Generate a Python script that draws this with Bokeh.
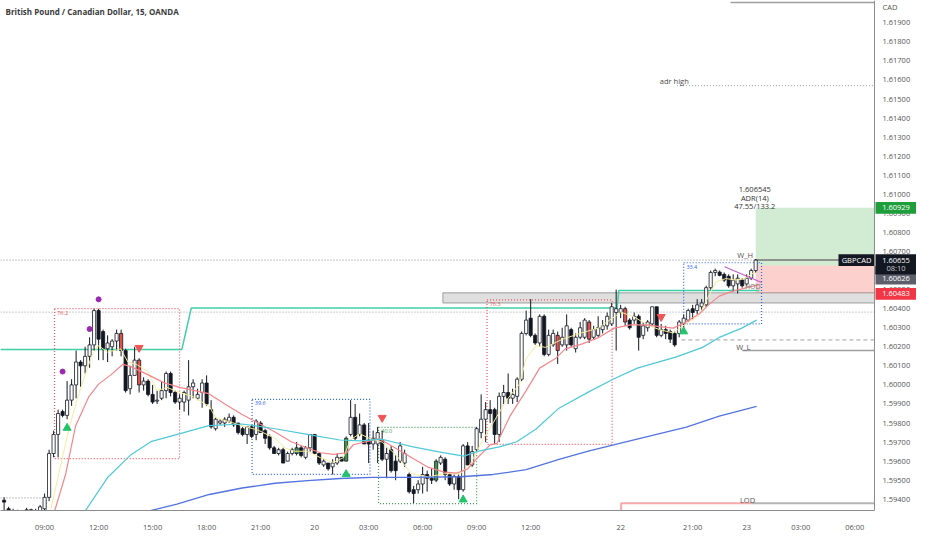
from bokeh.plotting import figure
from bokeh.models import ColumnDataSource, FixedTicker, Label, Span
from bokeh.core.properties import value
from bokeh.embed import file_html
from bokeh.resources import INLINE

# ---- candles (15 min bars, x = bar index, 0 = 09:00 on the 19th) ----
bar_index = list(range(-9, 159))
opens = [
    1.59395, 1.59350, 1.59340, 1.59330, 1.59325, 1.59330, 1.59345, 1.59335, 1.59340, 1.59350,
    1.5941, 1.5964, 1.5974, 1.5986, 1.5984, 1.5992, 1.6000, 1.6012, 1.6010, 1.6015,
    1.6021, 1.6039, 1.6028, 1.6019, 1.6020, 1.6023, 1.6027, 1.6018, 1.5998, 1.6005,
    1.6013, 1.6000, 1.6002, 1.5995, 1.59915, 1.5993, 1.5997, 1.6006, 1.5996, 1.5991,
    1.5991, 1.5992, 1.5999, 1.5993, 1.5996, 1.6001, 1.5987, 1.5977, 1.5980, 1.5980,
    1.5981, 1.5983, 1.5980, 1.5977, 1.5974, 1.5978, 1.5974, 1.5980, 1.5976, 1.5973,
    1.5967, 1.5964, 1.5966, 1.5960, 1.5964, 1.5964, 1.5967, 1.5962, 1.5967, 1.5974,
    1.5964, 1.5958, 1.5959, 1.5957, 1.5959, 1.5962, 1.5960, 1.5974, 1.5983, 1.5974,
    1.5979, 1.5971, 1.5969, 1.5969, 1.5971, 1.5961, 1.5966, 1.5960, 1.5960, 1.5959,
    1.5953, 1.5945, 1.5945, 1.5948, 1.5953, 1.5951, 1.5950, 1.5959, 1.5961, 1.5953,
    1.5948, 1.5952, 1.5945, 1.5968, 1.5958, 1.5966, 1.5975, 1.5982, 1.5987, 1.5987,
    1.5974, 1.5994, 1.5996, 1.5993, 1.5994, 1.6003, 1.6027, 1.6035, 1.6026, 1.6022,
    1.6036, 1.6016, 1.6021, 1.6026, 1.6021, 1.6021, 1.6029, 1.6019, 1.6025, 1.6025,
    1.6033, 1.6025, 1.6026, 1.6029, 1.6031, 1.6032, 1.6038, 1.6038, 1.6040, 1.6034,
    1.6034, 1.6036, 1.6026, 1.6030, 1.6032, 1.6041, 1.6026, 1.6029, 1.6028, 1.6027,
    1.6027, 1.6032, 1.6034, 1.6040, 1.6039, 1.6041, 1.6042, 1.6051, 1.6059, 1.60592,
    1.6058, 1.6057, 1.6052, 1.6053, 1.6055, 1.6053, 1.6056, 1.6060,
]
highs = [
    1.59410, 1.59360, 1.59350, 1.59345, 1.59340, 1.59355, 1.59350, 1.59350, 1.59370, 1.59430,
    1.5966, 1.5976, 1.5987, 1.5987, 1.6002, 1.6003, 1.6018, 1.6013, 1.6020, 1.6025,
    1.6040, 1.6040, 1.6029, 1.6026, 1.6024, 1.6029, 1.6029, 1.6019, 1.6010, 1.6020,
    1.6014, 1.6004, 1.6003, 1.6000, 1.5997, 1.6002, 1.6007, 1.6007, 1.5997, 1.5995,
    1.5997, 1.6013, 1.6003, 1.5998, 1.6003, 1.6005, 1.5992, 1.5983, 1.5982, 1.5983,
    1.5985, 1.5984, 1.5980, 1.5978, 1.5978, 1.5979, 1.5982, 1.5981, 1.5977, 1.5974,
    1.5968, 1.5967, 1.5967, 1.5965, 1.5967, 1.5970, 1.5968, 1.5968, 1.5974, 1.5974,
    1.5964, 1.5961, 1.5959, 1.5961, 1.5964, 1.5962, 1.5973, 1.5992, 1.5990, 1.5985,
    1.5980, 1.5980, 1.5976, 1.5978, 1.5976, 1.5967, 1.5968, 1.5963, 1.5970, 1.5966,
    1.5954, 1.5947, 1.5950, 1.5957, 1.5955, 1.5956, 1.5961, 1.5963, 1.5962, 1.5954,
    1.5953, 1.5953, 1.5969, 1.5970, 1.5968, 1.5978, 1.5995, 1.5991, 1.5992, 1.5988,
    1.5996, 1.6000, 1.6006, 1.5998, 1.6004, 1.6028, 1.6039, 1.6045, 1.6027, 1.6037,
    1.6037, 1.6029, 1.6029, 1.6028, 1.6030, 1.6037, 1.6030, 1.6027, 1.6033, 1.6035,
    1.6034, 1.6031, 1.6036, 1.6034, 1.6038, 1.6043, 1.6050, 1.6042, 1.6041, 1.6035,
    1.6038, 1.6037, 1.6033, 1.6034, 1.6041, 1.6041, 1.6032, 1.6031, 1.6029, 1.6028,
    1.6034, 1.6037, 1.6040, 1.6042, 1.6045, 1.6045, 1.6052, 1.6060, 1.6061, 1.6060,
    1.6059, 1.6058, 1.6058, 1.6058, 1.6056, 1.6058, 1.6061, 1.6066,
]
lows = [
    1.59340, 1.59330, 1.59320, 1.59310, 1.59310, 1.59320, 1.59320, 1.59320, 1.59330, 1.59340,
    1.5939, 1.5962, 1.5962, 1.5983, 1.5982, 1.5989, 1.5993, 1.5999, 1.6006, 1.6009,
    1.6018, 1.6013, 1.6013, 1.6012, 1.6015, 1.6018, 1.6015, 1.5996, 1.5995, 1.6005,
    1.5996, 1.5997, 1.5994, 1.5990, 1.5990, 1.5992, 1.5993, 1.5994, 1.5990, 1.5987,
    1.5986, 1.5984, 1.5993, 1.5992, 1.5988, 1.5989, 1.5977, 1.5976, 1.5979, 1.5978,
    1.5980, 1.5978, 1.5974, 1.5973, 1.5969, 1.5972, 1.5971, 1.5975, 1.5969, 1.5966,
    1.5964, 1.5963, 1.5959, 1.5960, 1.5963, 1.5963, 1.5962, 1.5961, 1.5965, 1.5964,
    1.5958, 1.5957, 1.5955, 1.5953, 1.5958, 1.5960, 1.5960, 1.5973, 1.5971, 1.5973,
    1.5969, 1.5959, 1.5966, 1.5959, 1.5960, 1.5951, 1.5954, 1.5950, 1.5959, 1.5957,
    1.5943, 1.5938, 1.5943, 1.5943, 1.5944, 1.5948, 1.5949, 1.5958, 1.5950, 1.5947,
    1.5945, 1.5940, 1.5944, 1.5958, 1.5957, 1.5965, 1.5972, 1.5970, 1.5980, 1.5969,
    1.5970, 1.5990, 1.5990, 1.5990, 1.5991, 1.6002, 1.6026, 1.6025, 1.6021, 1.6020,
    1.6015, 1.6015, 1.6020, 1.6011, 1.6020, 1.6018, 1.6020, 1.6017, 1.6024, 1.6024,
    1.6022, 1.6024, 1.6025, 1.6027, 1.6029, 1.6031, 1.6018, 1.6035, 1.6031, 1.6029,
    1.6032, 1.6018, 1.6024, 1.6028, 1.6031, 1.6025, 1.6025, 1.6024, 1.6022, 1.6020,
    1.6025, 1.6030, 1.6033, 1.6034, 1.6037, 1.6039, 1.6041, 1.6050, 1.6057, 1.6057,
    1.6054, 1.6051, 1.6049, 1.6048, 1.6051, 1.6052, 1.6055, 1.6059,
]
closes = [
    1.59385, 1.59340, 1.59330, 1.59325, 1.59330, 1.59345, 1.59335, 1.59340, 1.59360, 1.59410,
    1.5964, 1.5974, 1.5985, 1.5984, 1.5992, 1.6000, 1.6012, 1.6010, 1.6015, 1.6021,
    1.6039, 1.6024, 1.6019, 1.6022, 1.6023, 1.6027, 1.6018, 1.5997, 1.6005, 1.6013,
    1.6000, 1.6002, 1.5995, 1.5991, 1.5992, 1.5997, 1.6006, 1.5996, 1.5991, 1.5993,
    1.5996, 1.5999, 1.6001, 1.5995, 1.6001, 1.5990, 1.5978, 1.5982, 1.5981, 1.5982,
    1.5983, 1.5979, 1.5975, 1.5974, 1.5978, 1.5973, 1.5981, 1.5975, 1.5972, 1.5967,
    1.5964, 1.5966, 1.5959, 1.5964, 1.5966, 1.5967, 1.5963, 1.5967, 1.5974, 1.5964,
    1.5959, 1.5960, 1.5956, 1.5959, 1.5962, 1.5960, 1.5972, 1.5983, 1.5972, 1.5979,
    1.5969, 1.5969, 1.5972, 1.5975, 1.5961, 1.5964, 1.5955, 1.5955, 1.5968, 1.5964,
    1.5944, 1.5943, 1.5948, 1.5953, 1.5951, 1.5950, 1.5960, 1.5962, 1.5953, 1.5948,
    1.5952, 1.5945, 1.5968, 1.5958, 1.5965, 1.5977, 1.5982, 1.5987, 1.5985, 1.5974,
    1.5994, 1.5996, 1.5993, 1.5995, 1.6003, 1.6027, 1.6034, 1.6026, 1.6022, 1.6036,
    1.6016, 1.6026, 1.6027, 1.6018, 1.6025, 1.6031, 1.6021, 1.6025, 1.6030, 1.6034,
    1.6024, 1.6029, 1.6030, 1.6031, 1.6036, 1.6041, 1.6040, 1.6040, 1.6033, 1.6030,
    1.6036, 1.6025, 1.6031, 1.6033, 1.6041, 1.6026, 1.6029, 1.6027, 1.6024, 1.6021,
    1.6033, 1.6035, 1.6039, 1.6038, 1.6042, 1.6043, 1.6051, 1.6059, 1.6060, 1.60575,
    1.6055, 1.6052, 1.6055, 1.6056, 1.6052, 1.6056, 1.6060, 1.60655,
]
red_bars = [17, 21, 114, 121, 129]
green_bars = [56, 67, 87]

# ---- moving averages ----
ema_fast_x = [1.4, 5.4, 7.6, 10.5, 12, 14, 16.9, 18.5, 20.6, 22.9, 25, 27.2, 30, 33, 36.6, 38,
              43.9, 47.6, 51.2, 53.4, 55.5, 58.4, 61.3, 64.2, 66.4, 67.9, 70, 72.2, 75, 78,
              81.6, 85.3, 88.8, 92.4, 94.6, 97.5, 99.7, 102.6, 105.5, 107, 109.2, 111.3, 115,
              119.3, 123, 126.6, 128, 131, 133.9, 136.6, 139.7, 142.6, 145.5, 147, 149.2,
              151.4, 153.6, 155.6, 157.8]
ema_fast_y = [1.5935, 1.59769, 1.59954, 1.60155, 1.60206, 1.60172, 1.60189, 1.6012, 1.60105,
              1.60071, 1.5997, 1.59987, 1.5996, 1.59938, 1.59887, 1.59828, 1.59786, 1.59761,
              1.59719, 1.59669, 1.59652, 1.59652, 1.59618, 1.59593, 1.59618, 1.59711, 1.59744,
              1.59719, 1.5970, 1.59634, 1.59534, 1.59517, 1.59534, 1.59534, 1.59584, 1.59718,
              1.59802, 1.59919, 1.60004, 1.60138, 1.60206, 1.60197, 1.60239, 1.60273, 1.60298,
              1.60357, 1.60382, 1.60357, 1.60315, 1.6029, 1.60273, 1.60323, 1.60365, 1.60441,
              1.60541, 1.60558, 1.6055, 1.60558, 1.60592]
ema_mid_x = [2.0, 4.7, 6.9, 9.8, 12, 14.8, 17.4, 19.2, 22.9, 26.5, 30, 36.5, 40.3, 43.9, 47.2,
             51.2, 54.8, 58.4, 61.3, 64.2, 67.1, 68.6, 71.5, 74.4, 78, 81.6, 85.3, 88.8, 91.6,
             94, 96.2, 99, 100.5, 103.4, 107, 110, 113.5, 115.7, 119.3, 123, 126.6, 130.2,
             133.9, 136.6, 139.7, 142.6, 145.5, 147.7, 149.9, 152.7, 155.6, 158.5]
ema_mid_y = [1.5932, 1.59534, 1.59786, 1.59937, 1.60004, 1.60054, 1.60108, 1.60096, 1.60054,
             1.60012, 1.59987, 1.59954, 1.59896, 1.59845, 1.59803, 1.59753, 1.59702, 1.59669,
             1.59644, 1.59635, 1.59644, 1.59686, 1.59702, 1.59718, 1.59668, 1.59618, 1.59567,
             1.59542, 1.59537, 1.59559, 1.59618, 1.59685, 1.59693, 1.59836, 1.5997, 1.60088,
             1.60138, 1.60189, 1.60214, 1.60247, 1.60298, 1.60315, 1.60315, 1.60306, 1.60298,
             1.60331, 1.60373, 1.60424, 1.60466, 1.60491, 1.60508, 1.60525]
ema_slow_x = [8.5, 14.1, 19.2, 23.6, 30.1, 36.5, 43.9, 51.2, 58.4, 65.6, 70, 75, 81.6, 88.8,
              93.2, 96.2, 101.3, 104.9, 109.2, 114.3, 120.8, 126.3, 131.7, 140.4, 146.2,
              149.8, 154.9, 158.2]
ema_slow_y = [1.5932, 1.59517, 1.59634, 1.59702, 1.59744, 1.59786, 1.59795, 1.5977, 1.5974,
              1.59711, 1.59706, 1.59715, 1.59676, 1.59643, 1.59626, 1.59651, 1.59676, 1.59702,
              1.59769, 1.59878, 1.59962, 1.6003, 1.60088, 1.60147, 1.60197, 1.60248, 1.60298,
              1.6034]
ema_long_x = [23.5, 29.4, 36.6, 43.9, 51.2, 58.4, 65.7, 72.9, 81.6, 92.4, 99.7, 107, 114.3,
              120.8, 128, 135.3, 142.6, 149.9, 158.2]
ema_long_y = [1.5934, 1.59375, 1.59425, 1.59459, 1.59484, 1.59498, 1.59509, 1.59515, 1.59515,
              1.59518, 1.5953, 1.59555, 1.59609, 1.59652, 1.59694, 1.59736, 1.59778, 1.59836,
              1.59887]

# previous-day high level (steps up twice)
level_x = [-9.8, 30.5, 32.6, 127.2, 127.6, 158.8]
level_y = [1.60186, 1.60186, 1.60404, 1.60404, 1.60496, 1.60496]

# ---- signals ----
dot_x = [4, 10, 12]
dot_y = [1.6007, 1.60293, 1.60449]
buy_x = [5, 67, 93, 142]
buy_y = [1.59774, 1.59531, 1.59398, 1.60280]
sell_x = [21, 75, 137]
sell_y = [1.60195, 1.59828, 1.60357]

# ---- range boxes ----
box_left = [2.2, 46.1, 74.2, 98.3, 142.0]
box_right = [30.0, 72.3, 96.0, 126.1, 159.3]
box_top = [1.60400, 1.59924, 1.59777, 1.60446, 1.60641]
box_bottom = [1.59613, 1.59531, 1.59377, 1.59688, 1.60320]
box_text = ["76.2", "39.6", "40.0", "76.3", "33.4"]
box_color = ["#f2545b", "#2962ff", "#3fa34d", "#f2545b", "#2962ff"]

# ---- levels ----
last_price = 1.60655
mid_level = 1.60382
adr_high = 1.61570
top_level = 1.62007
week_high = 1.60655
week_low = 1.60181
dash_level = 1.60236
lod = 1.59379
take_profit = 1.60929
entry = 1.60626
stop_loss = 1.60483
zone_top = 1.60483
zone_bottom = 1.60430
adr_lines = ["1.606545", "ADR(14)", "47.55/133.2"]

# ---- axes ----
time_ticks = [0, 12, 24, 36, 48, 60, 72, 84, 96, 108, 128, 144, 156, 168, 180]
time_labels = ["09:00", "12:00", "15:00", "18:00", "21:00", "20", "03:00", "06:00", "09:00",
               "12:00", "22", "21:00", "23", "03:00", "06:00"]
price_ticks = [1.594, 1.595, 1.596, 1.597, 1.598, 1.599, 1.600, 1.601, 1.602, 1.603, 1.604,
               1.605, 1.606, 1.607, 1.608, 1.609, 1.610, 1.611, 1.612, 1.613, 1.614, 1.615,
               1.616, 1.617, 1.618, 1.619]

W, H = 916, 534
CHART_W, SCALE_W, AXIS_H = 874, 42, 18
X0, X1 = -9.8, 184.4                  # price-area extent in bar units
PX = (X1 - X0) / CHART_W              # bar units per pixel
XR = X1 + SCALE_W * PX                # the price scale lives inside the frame
Y0, Y1 = 1.59341, 1.62017
PY = (Y1 - Y0) / (H - AXIS_H)         # price per pixel
FONT = "Open Sans"
AX = "#8c8c8c"
TXT = "#4a4a4a"

p = figure(width=W, height=H, x_range=(X0, XR), y_range=(Y0, Y1),
           y_axis_location=None, output_backend="svg", toolbar_location=None,
           tools="", min_border_left=0, min_border_top=0, min_border_right=0,
           min_border_bottom=AXIS_H)
p.outline_line_color = None
p.grid.grid_line_color = None
p.background_fill_color = "white"

p.xaxis.ticker = FixedTicker(ticks=time_ticks)
p.xaxis.major_label_overrides = {t: l for t, l in zip(time_ticks, time_labels)}
p.xaxis.bounds = (X0, X1)
p.xaxis.axis_line_color = AX
p.xaxis.major_tick_line_color = None
p.xaxis.minor_tick_line_color = None
p.xaxis.major_label_text_font = FONT
p.xaxis.major_label_text_font_size = "7.5px"
p.xaxis.major_label_text_color = "#555555"
p.xaxis.major_label_standoff = 5

# ---- zones (long position tool + grey supply zone) ----
p.quad(left=88.5, right=X1, top=zone_top, bottom=zone_bottom,
       fill_color="#dcdcdc", fill_alpha=0.9, line_color="#9e9e9e", line_width=1)
p.quad(left=158.0, right=X1, top=take_profit, bottom=entry,
       fill_color="#4caf50", fill_alpha=0.25, line_color=None)
p.quad(left=158.0, right=X1, top=entry, bottom=stop_loss,
       fill_color="#f44336", fill_alpha=0.25, line_color=None)

# ---- horizontal levels ----
p.line([X0, X1], [last_price, last_price], color="#888888", line_dash="1 2", line_width=1)
p.line([X0, X1], [mid_level, mid_level], color="#999999", line_dash="1 2", line_width=1)
p.line([140.5, X1], [adr_high, adr_high], color="#999999", line_dash="1 2", line_width=1)
p.line([152.4, X1], [top_level, top_level], color="#9e9e9e", line_width=1.5)
p.line([141.5, X1], [dash_level, dash_level], color="#a0a0a0", line_dash="4 3", line_width=1)
p.line([157.8, X1], [week_high, week_high], color="#7a7a7a", line_width=1.5)
p.line([155.0, X1], [week_low, week_low], color="#9e9e9e", line_width=1.5)
p.line([128.1, 128.1, 157.0], [Y0 - 0.001, lod, lod], color="#f7a8ab", line_width=2)
p.line([157.0, X1], [lod, lod], color="#b5b5b5", line_width=2)
p.line([X0, 0.4, 0.4], [1.59407, 1.59407, Y0], color="#888888", line_dash="1 2", line_width=1)
p.line(level_x, level_y, color="#3fcfa8", line_width=1.5)

# ---- range boxes ----
p.quad(left=box_left, right=box_right, top=box_top, bottom=box_bottom,
       fill_alpha=0, line_color=box_color, line_dash="1 2", line_width=1.2)
p.text(x=[b + 0.6 for b in box_left], y=box_top, text=box_text, text_color=box_color,
       text_font=value(FONT), text_font_size="5.5px", text_baseline="top", y_offset=2)

# ---- candles ----
fills = []
for i, o, c in zip(bar_index, opens, closes):
    if i in red_bars:
        fills.append("#e8524a")
    elif i in green_bars:
        fills.append("#3d9a4a")
    elif c >= o:
        fills.append("white")
    else:
        fills.append("#131722")
src = ColumnDataSource(dict(x=bar_index, h=highs, l=lows,
                            top=[max(o, c) for o, c in zip(opens, closes)],
                            bot=[min(o, c) for o, c in zip(opens, closes)],
                            fill=fills))
p.segment(x0="x", y0="h", x1="x", y1="l", source=src, color="#131722", line_width=1)
p.vbar(x="x", width=0.7, top="top", bottom="bot", source=src, fill_color="fill",
       line_color="#131722", line_width=0.8)

# ---- moving averages ----
p.line(ema_fast_x, ema_fast_y, color="#f4ec9a", line_width=1)
p.line(ema_mid_x, ema_mid_y, color="#f4858a", line_width=1.2)
p.line(ema_slow_x, ema_slow_y, color="#4fc8d8", line_width=1.2)
p.line(ema_long_x, ema_long_y, color="#5273e0", line_width=1.3)
p.line([151.1, 159.3], [1.6062, 1.60537], color="#c35fc9", line_width=1.2)

# ---- signals ----
p.scatter(dot_x, dot_y, marker="circle", size=5, color="#9c27b0")
p.scatter(buy_x, buy_y, marker="triangle", size=8, color="#22c36b")
p.scatter(sell_x, sell_y, marker="inverted_triangle", size=8, color="#f05454")

# ---- texts in the chart ----
def note(x, y, text, color=TXT, size="7.5px", align="left", baseline="middle"):
    p.add_layout(Label(x=x, y=y, text=text, text_color=color, text_font=FONT,
                       text_font_size=size, text_align=align, text_baseline=baseline))

note(136.7, adr_high, "adr high", baseline="bottom")
for k, t in enumerate(adr_lines):
    note(157.8, 1.61026 - k * 0.00043, t, color="#333333", align="center")
note(153.9, week_high + 0.00025, "W_H", color="#555555")
note(153.7, week_low + 0.00016, "W_L", color="#555555")
note(154.5, lod + 0.00018, "LOD", color="#555555")
note(155.6, 1.60518, "HOD", color="#777777", size="7px")

p.add_layout(Label(x=5, y=1.6196, x_units="screen", text="British Pound / Canadian Dollar, 15, OANDA",
                   text_color="#3a3a3a", text_font=FONT, text_font_size="8px",
                   text_font_style="bold", text_baseline="middle"))

# ---- price scale drawn inside the frame, right of the chart ----
p.add_layout(Span(location=X1, dimension="height", line_color=AX, line_width=1))
p.text(x=[X1 + 8 * PX] * len(price_ticks), y=price_ticks,
       text=[f"{t:.5f}" for t in price_ticks], text_color="#555555",
       text_font=value(FONT), text_font_size="7.5px", text_baseline="middle")
p.text(x=[X1 + 8 * PX], y=[Y1 - 7 * PY], text=["CAD"], text_color="#555555",
       text_font=value(FONT), text_font_size="7.5px", text_baseline="middle")

def tag(text, y, bg, fg="white", left=X1 + PX, right=XR, top=None, bottom=None):
    top = y + 6 * PY if top is None else top
    bottom = y - 6 * PY if bottom is None else bottom
    p.quad(left=left, right=right, top=top, bottom=bottom, fill_color=bg, line_color=None)
    p.text(x=[(left + right) / 2], y=[y], text=[text], text_color=fg, text_font=value(FONT),
           text_font_size="7.5px", text_align="center", text_baseline="middle")

tag("1.60929", take_profit, "#1f9e3c")
tag("1.60626", 1.60558, "#5d606b")
tag("1.60483", 1.60478, "#f23645")
tag("1.60655", 1.60655, "#131722", bottom=1.60612 - 6 * PY)
tag("08:10", 1.60612, "#131722", fg="#c8c8c8", top=1.60612 + 2 * PY)
tag("GBPCAD", 1.60655, "#131722", left=X1 - 36 * PX, right=X1)

open("out.html", "w").write(file_html(p, INLINE))
